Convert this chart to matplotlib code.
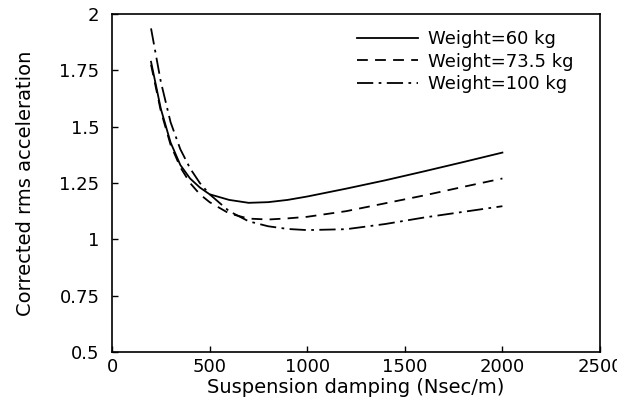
import matplotlib
matplotlib.use("Agg")
import matplotlib.pyplot as plt

damping = [200, 250, 300, 350, 400, 450, 500, 600, 700, 800, 900, 1000,
           1200, 1400, 1600, 1800, 2000]
w60 = [1.788, 1.58, 1.43, 1.33, 1.27, 1.23, 1.20, 1.175, 1.162, 1.165, 1.175,
       1.19, 1.225, 1.262, 1.302, 1.343, 1.385]
w735 = [1.775, 1.57, 1.42, 1.32, 1.25, 1.20, 1.165, 1.115, 1.092, 1.088,
        1.093, 1.10, 1.125, 1.16, 1.195, 1.233, 1.27]
w100 = [1.936, 1.70, 1.52, 1.40, 1.315, 1.25, 1.20, 1.125, 1.08, 1.058,
        1.046, 1.041, 1.045, 1.068, 1.097, 1.122, 1.147]
labels = ["Weight=60 kg", "Weight=73.5 kg", "Weight=100 kg"]
xticks = [0, 500, 1000, 1500, 2000, 2500]
yticks = [0.5, 0.75, 1, 1.25, 1.5, 1.75, 2]
ytick_labels = ["0.5", "0.75", "1", "1.25", "1.5", "1.75", "2"]

plt.rcParams['font.family'] = ['DejaVu Sans']

fig = plt.figure(figsize=(6.17, 4.15), dpi=100)
ax = fig.add_axes([112/617, 1 - 352/415, (600-112)/617, (352-14)/415])

ax.plot(damping, w60, color='black', lw=1.3, linestyle='-', label=labels[0])
ax.plot(damping, w735, color='black', lw=1.3, linestyle=(0, (6, 4)), label=labels[1])
ax.plot(damping, w100, color='black', lw=1.3, linestyle=(0, (9, 3, 1.5, 3)), label=labels[2])

ax.set_xlim(0, 2500)
ax.set_ylim(0.5, 2)
ax.set_xticks(xticks)
ax.set_xticklabels([str(v) for v in xticks])
ax.set_yticks(yticks)
ax.set_yticklabels(ytick_labels)
ax.tick_params(direction='in', length=4, width=1, labelsize=13, colors='black')
ax.tick_params(axis='x', pad=4)
ax.tick_params(axis='y', pad=9)
for s in ax.spines.values():
    s.set_linewidth(1.2)

ax.set_xlabel("Suspension damping (Nsec/m)", fontsize=14, labelpad=2)
ax.set_ylabel("Corrected rms acceleration", fontsize=14)
ax.yaxis.set_label_coords(-0.158, 0.5)

leg = ax.legend(loc='upper left', frameon=False, fontsize=13, handlelength=3.4,
                handletextpad=0.55, labelspacing=0.25, borderaxespad=0,
                borderpad=0, bbox_to_anchor=((357-112)/488, (352-30)/338))

fig.savefig("out.png", dpi=100)
